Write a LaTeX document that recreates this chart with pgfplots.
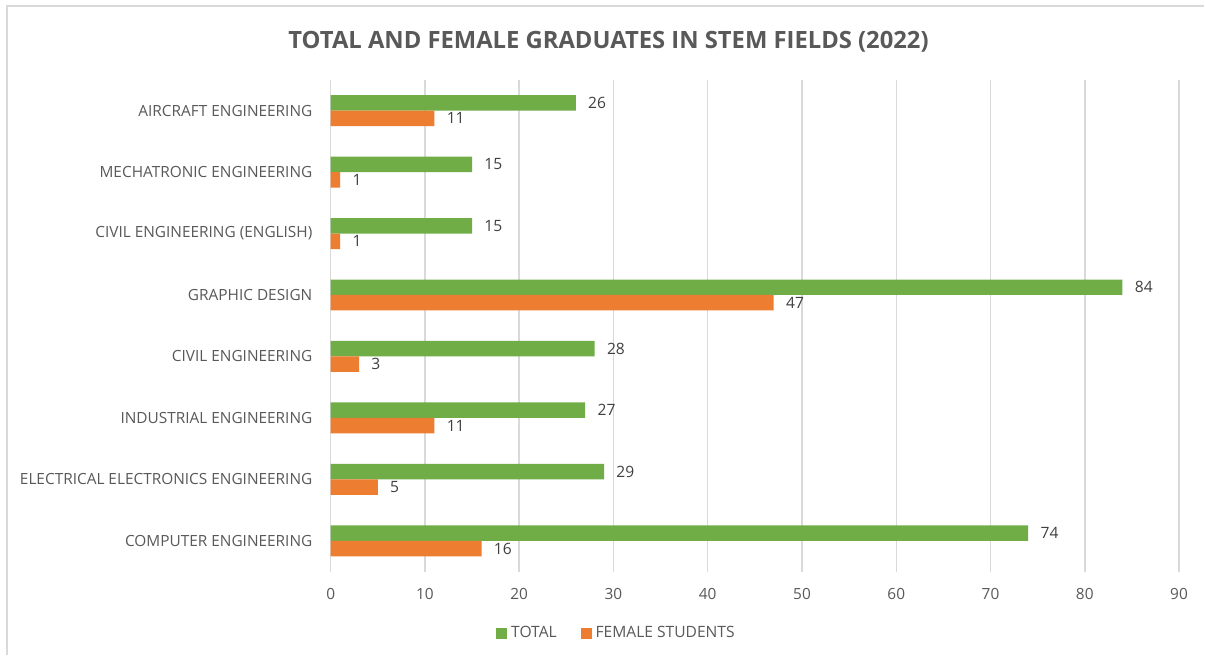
\documentclass[border=0pt]{standalone}
\usepackage{pgfplots}
\pgfplotsset{compat=1.18}
\usepackage{fontspec}
\setmainfont{Open Sans}
\definecolor{cgreen}{RGB}{112,173,71}
\definecolor{corange}{RGB}{237,125,49}
\definecolor{cgrid}{RGB}{217,217,217}
\definecolor{ctext}{RGB}{89,89,89}
\definecolor{clab}{RGB}{64,64,64}
\begin{document}
\begin{tikzpicture}
\path[fill=white] (0pt,0pt) rectangle (602.5pt,328pt);
\draw[cgrid, line width=1pt] (3.5pt,0pt) -- (3.5pt,325pt) -- (602.5pt,325pt);
\node[font=\fontsize{11.9}{14}\selectfont\bfseries, text=ctext] at (304.5pt,307pt) {TOTAL AND FEMALE GRADUATES IN STEM FIELDS (2022)};
\begin{axis}[
  at={(165.5pt,42pt)}, anchor=south west,
  scale only axis, width=424.5pt, height=246pt,
  xbar, xmin=0, xmax=90, ymin=-0.5, ymax=7.5,
  axis line style={draw=none},
  xtick={0,10,...,90}, ytick={0,...,7},
  yticklabels={COMPUTER ENGINEERING, ELECTRICAL ELECTRONICS ENGINEERING, INDUSTRIAL ENGINEERING, CIVIL ENGINEERING, GRAPHIC DESIGN, CIVIL ENGINEERING (ENGLISH), MECHATRONIC ENGINEERING, AIRCRAFT ENGINEERING},
  major tick length=0pt,
  xmajorgrids, grid style={cgrid, line width=0.75pt},
  /pgf/number format/assume math mode=true,
  ticklabel style={font=\fontsize{7.7}{9}\selectfont, text=ctext},
  yticklabel style={font=\fontsize{7.7}{10}\selectfont, text=ctext, inner sep=0pt, xshift=-9pt},
  xticklabel style={inner sep=0pt, yshift=-8pt},
  bar width=7.75pt,
  nodes near coords,
  nodes near coords style={font=\fontsize{7.8}{9}\selectfont, text=clab, anchor=west, inner sep=0pt, xshift=6pt},
  legend columns=2,
  legend style={at={(0.338,-0.126)}, anchor=center, draw=none, fill=none, font=\fontsize{7.8}{9}\selectfont, text=ctext,
    /tikz/every even column/.append style={column sep=10pt}},
  legend image code/.code={\fill (0pt,-2.75pt) rectangle (5.5pt,2.75pt);},
]
\addplot[fill=cgreen, draw=none, bar shift=3.875pt] coordinates {(74,0) (29,1) (27,2) (28,3) (84,4) (15,5) (15,6) (26,7)};
\addplot[fill=corange, draw=none, bar shift=-3.875pt] coordinates {(16,0) (5,1) (11,2) (3,3) (47,4) (1,5) (1,6) (11,7)};
\legend{TOTAL, FEMALE STUDENTS}
\end{axis}
\end{tikzpicture}
\end{document}
